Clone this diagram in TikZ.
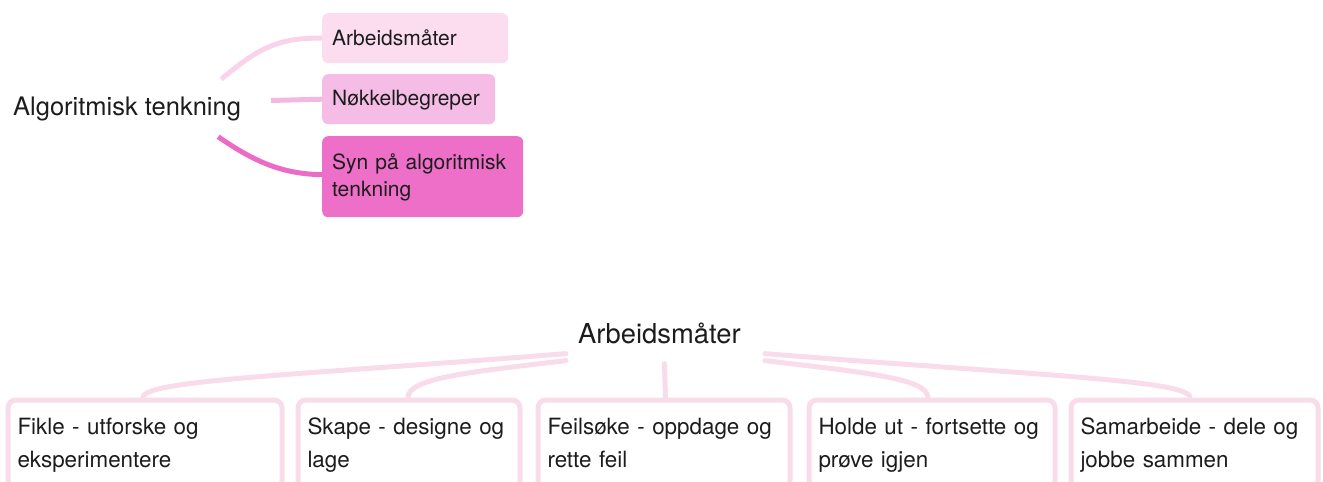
\documentclass[tikz,border=0pt]{standalone}
\usepackage{fontspec}
\setmainfont{TeX Gyre Heros}
\usepackage{tikz}
\usetikzlibrary{positioning}
\definecolor{pinkA}{HTML}{FBDDEF}
\definecolor{pinkB}{HTML}{F5BCE6}
\definecolor{pinkC}{HTML}{EE6FC8}
\definecolor{lineA}{HTML}{F9D3EA}
\definecolor{lineB}{HTML}{F3B8E2}
\definecolor{lineC}{HTML}{EB6CC6}
\definecolor{pinkL}{HTML}{F9DCE9}
\definecolor{ink}{HTML}{1C1C1C}
\tikzset{
topbox/.style={rounded corners=6pt, anchor=north west, align=left, inner xsep=10pt, inner ysep=0pt, text=ink, % coloured boxes of the first map
  font=\fontsize{21}{27}\selectfont,
  execute at begin node=\rule[-3pt]{0pt}{21pt}, execute at end node=\rule[-3pt]{0pt}{21pt}},
botbox/.style={draw=pinkL, line width=5pt, rounded corners=8pt, fill=white, anchor=north west, align=left, % framed boxes of the second map
  inner xsep=9.5pt, inner ysep=0pt, minimum height=89pt, text=ink,
  font=\fontsize{22.4}{33}\selectfont, execute at begin node=\strut, execute at end node=\strut},
toplink/.style={line width=5pt}, % branch lines, first map
botlink/.style={draw=pinkL, line width=5pt, line cap=round}, % branch lines, second map
}

\begin{document}
\begin{tikzpicture}[x=1pt, y=-1pt]
\useasboundingbox (0,0) rectangle (1323,482);
\clip (0,0) rectangle (1323,482);

% first map
\node[anchor=base west, inner sep=0pt, text=ink, font=\fontsize{25.5}{30}\selectfont] (alg) at (13,115) {Algoritmisk tenkning};
\node[topbox, fill=pinkA, text width=166pt, minimum height=50pt] (arb) at (322,13) {Arbeidsmåter};
\node[topbox, fill=pinkB, text width=153pt, minimum height=50pt] (nok) at (322,74) {Nøkkelbegreper};
\node[topbox, fill=pinkC, text width=181pt, minimum height=81pt] (syn) at (322,136) {Syn på algoritmisk\\tenkning};

\draw[toplink, lineA] ([shift={(-20,-17)}]alg.north east) .. controls (254,52) and (275,37) .. (arb.west);
\draw[toplink, lineB] ([shift={(30,-8)}]alg.east) -- (nok.west);
\draw[toplink, lineC] ([shift={(-23,16)}]alg.south east) .. controls (252,160) and (280,174) .. ([yshift=2pt]syn.west);

% second map
\node[anchor=base west, inner sep=0pt, text=ink, font=\fontsize{27.4}{32}\selectfont] (arbroot) at (578,343) {Arbeidsmåter};
\node[botbox, text width=255pt] (fik) at (5.5,397.5) {Fikle - utforske og\\eksperimentere};
\node[botbox, text width=203pt] (ska) at (295.5,397.5) {Skape - designe og\\lage};
\node[botbox, text width=233pt] (fei) at (535.5,397.5) {Feilsøke - oppdage og\\rette feil};
\node[botbox, text width=227pt] (hol) at (806.5,397.5) {Holde ut - fortsette og\\prøve igjen};
\node[botbox, text width=228pt] (sam) at (1068.5,397.5) {Samarbeide - dele og\\jobbe sammen};

\draw[botlink] ([shift={(-12,10)}]arbroot.south west) .. controls (300,375) and (143,380) .. ([xshift=137.5pt]fik.north west);
\draw[botlink] ([shift={(-12,17)}]arbroot.south west) .. controls (470,372) and (408,378) .. ([xshift=112.5pt]ska.north west);
\draw[botlink] ([shift={(5,20)}]arbroot.south) -- ([xshift=1.5pt]fei.north);
\draw[botlink] ([shift={(24,17)}]arbroot.south east) .. controls (860,372) and (928,378) .. ([xshift=121.5pt]hol.north west);
\draw[botlink] ([shift={(24,10)}]arbroot.south east) .. controls (1030,375) and (1190,380) .. ([xshift=121.5pt]sam.north west);
\end{tikzpicture}
\end{document}
